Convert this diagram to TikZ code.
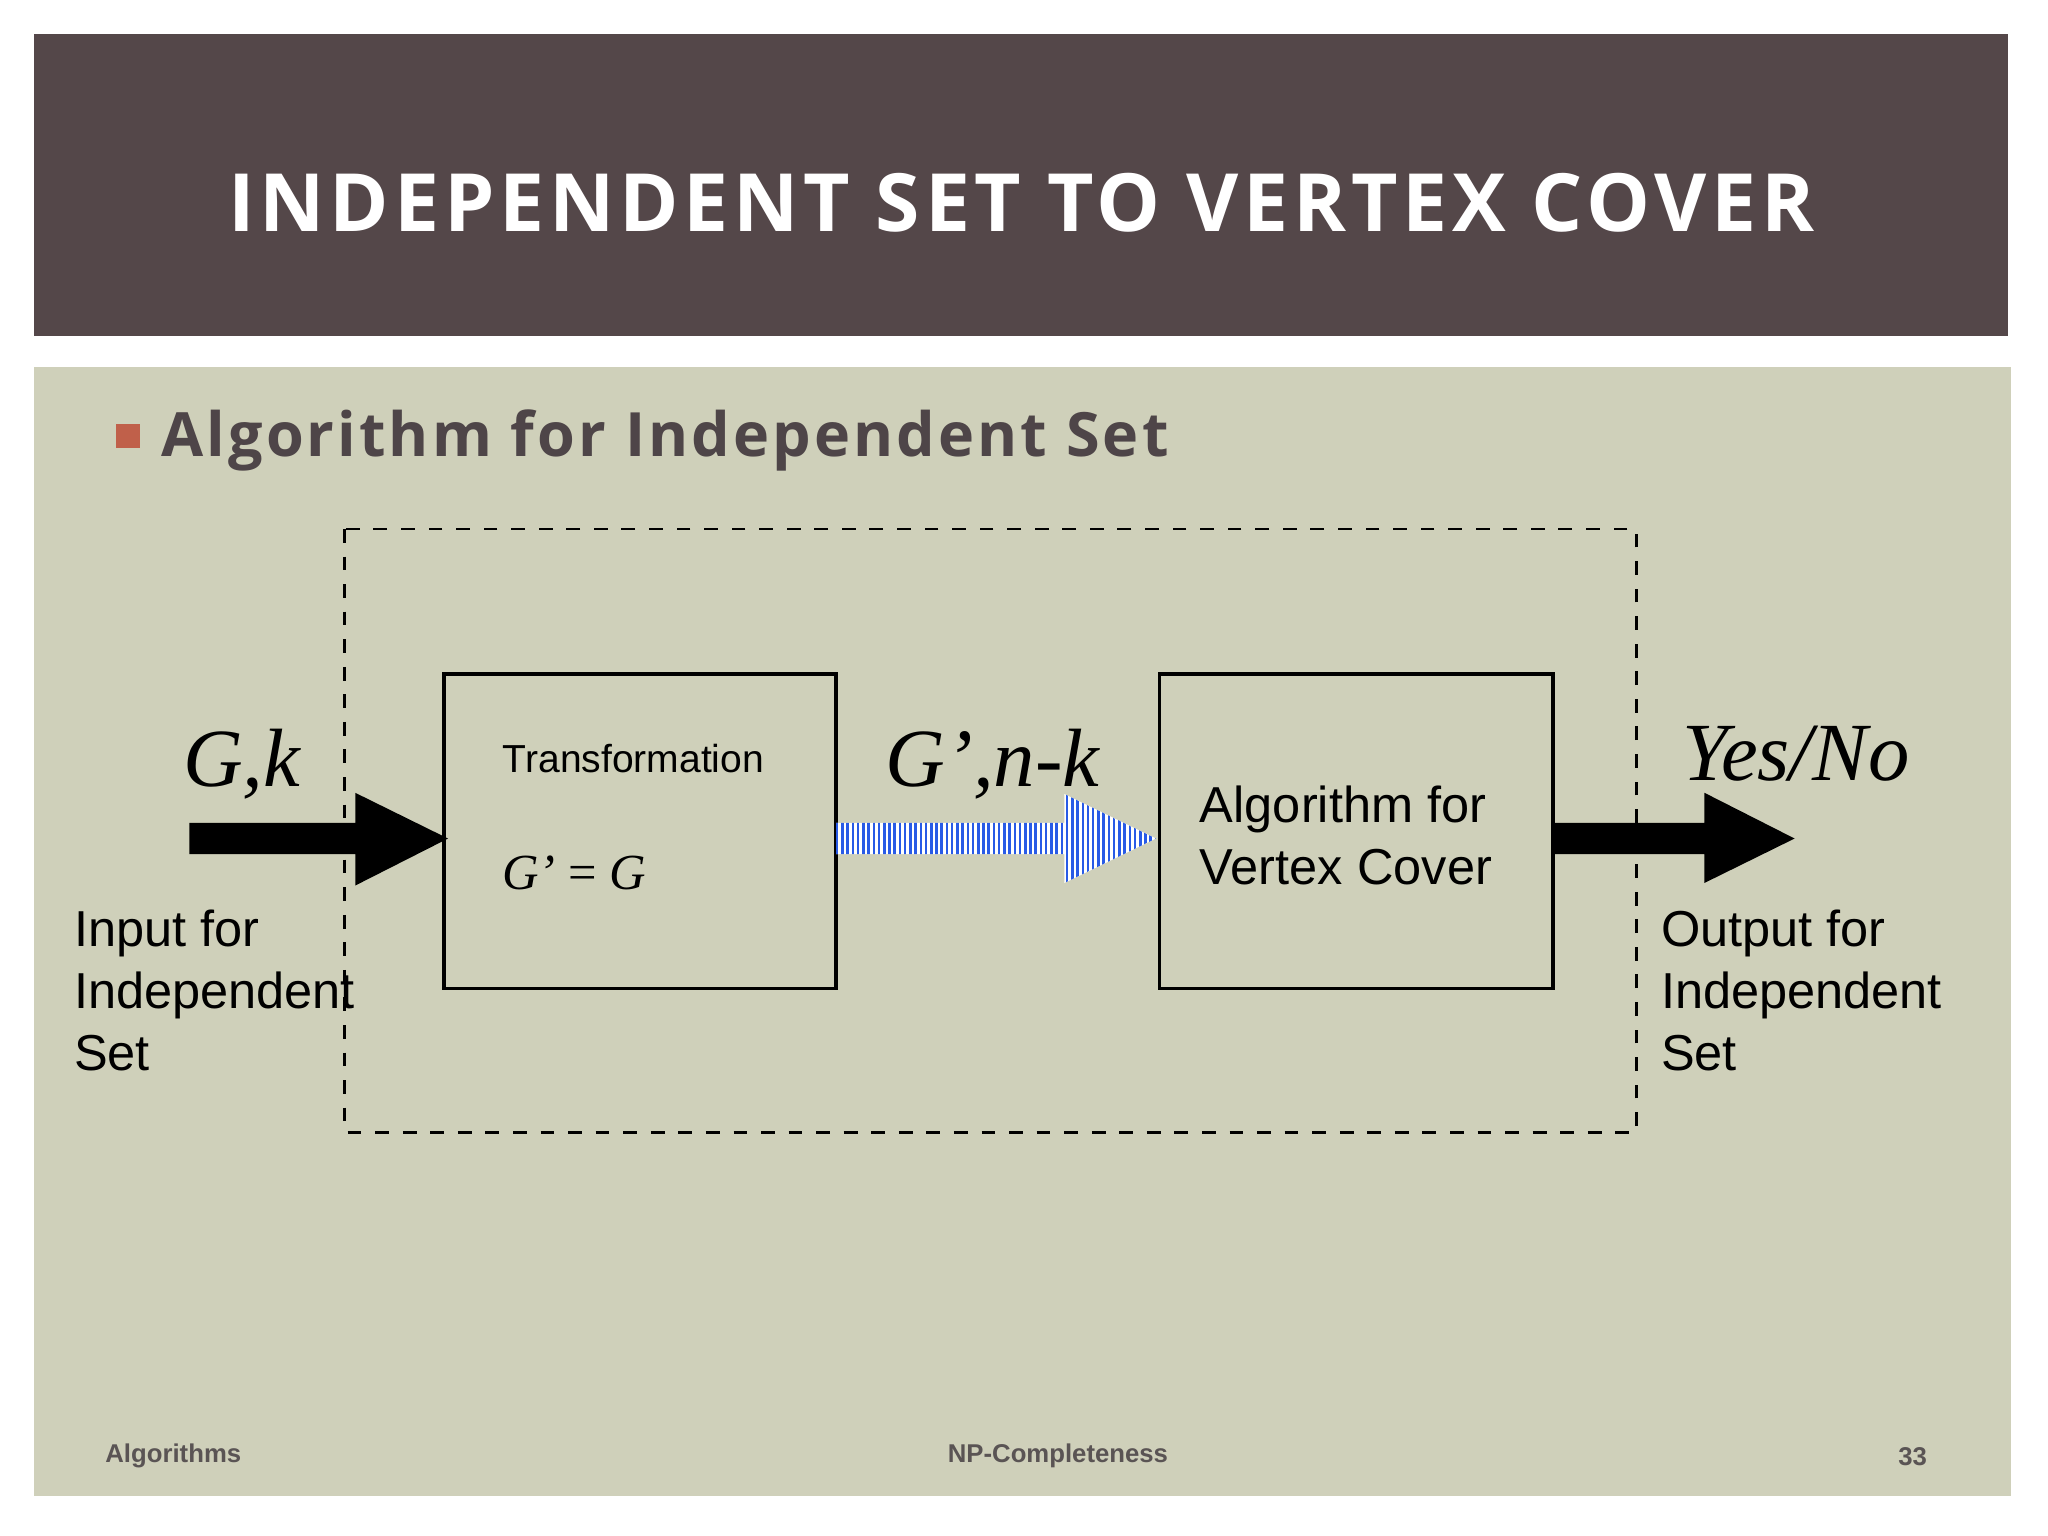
\documentclass[tikz,border=0pt]{standalone}
\usepackage{fontspec}
\setmainfont{Liberation Sans}
\newfontfamily\titlefont{Open Sans}
\newfontfamily\serifit{Liberation Serif}
\definecolor{titlebg}{RGB}{84,71,73}
\definecolor{bodybg}{RGB}{207,208,186}
\definecolor{bulletc}{RGB}{192,96,74}
\definecolor{darktxt}{RGB}{78,69,72}
\definecolor{footc}{RGB}{90,84,84}
\definecolor{stripe}{RGB}{40,90,230}
\tikzset{
  box/.style={draw=black, line width=0.7pt},
  bigarrow/.style={fill=black},
  lbl/.style={font=\fontsize{11}{13.5}\selectfont, align=left, anchor=west, inner sep=0pt},
  mathlbl/.style={font=\serifit\itshape\fontsize{18}{22}\selectfont, inner sep=0pt},
  foot/.style={font=\fontsize{5.6}{7}\selectfont\bfseries, text=footc, inner sep=0pt}
}
\begin{document}
\begin{tikzpicture}[x=0.01cm,y=-0.01cm]
\useasboundingbox (0,0) rectangle (1568,1176);
\fill[white] (0,0) rectangle (1568,1176);
\fill[titlebg] (26,26) rectangle (1537,257);
\node[text=white, font=\titlefont\bfseries\fontsize{17.5}{22}\selectfont, inner sep=0pt] (title) at (782,155) {\addfontfeature{LetterSpace=6}INDEPENDENT SET TO VERTEX COVER};
\fill[bodybg] (26,281) rectangle (1540,1145);
\fill[bulletc] (89,325) rectangle (107,343);
\node[anchor=west, text=darktxt, font=\titlefont\bfseries\fontsize{13.3}{16}\selectfont, inner sep=0pt] (bullet) at (123,337) {\addfontfeature{LetterSpace=5}Algorithm for Independent Set};
\draw[dashed, line width=0.6pt] (264,405) rectangle (1253,867);
\draw[box] (340,516) rectangle (640,757);
\draw[box] (888,516) rectangle (1189,757);
\node[font=\fontsize{8.5}{10}\selectfont, inner sep=0pt] (tlab) at (485,581) {Transformation};
\node[anchor=west, font=\serifit\fontsize{11}{13}\selectfont, inner sep=0pt] (geq) at (384,668) {\itshape G’\upshape{} = \itshape G};
\node[lbl] (alg) at (918,640) {Algorithm for\\Vertex Cover};
\node[lbl] (inp) at (56,758) {Input for\\Independent\\Set};
\node[lbl] (outp) at (1271,758) {Output for\\Independent\\Set};
\node[mathlbl] (gk) at (185,585) {G,k};
\node[mathlbl] (gnk) at (760,585) {G’,n-k};
\node[mathlbl] (yn) at (1375,577) {Yes/No};
\fill[bigarrow] (145,630) -- (272,630) -- (272,607) -- (343,642) -- (272,678) -- (272,654) -- (145,654) -- cycle;
\fill[bigarrow] (1189,630) -- (1305,630) -- (1305,607) -- (1374,642) -- (1305,676) -- (1305,654) -- (1189,654) -- cycle;
\begin{scope}
\clip (640,630) -- (815,630) -- (815,608) -- (885,642) -- (815,676) -- (815,654) -- (640,654) -- cycle;
\fill[white] (640,600) rectangle (890,680);
\foreach \i in {0,...,62} {\draw[stripe, line width=0.55pt] (641+4*\i,600) -- (641+4*\i,680);}
\end{scope}
\node[foot, anchor=west] (f1) at (80,1115) {Algorithms};
\node[foot] (f2) at (810,1115) {NP-Completeness};
\node[foot, anchor=east] (f3) at (1476,1115) {33};
\end{tikzpicture}
\end{document}
